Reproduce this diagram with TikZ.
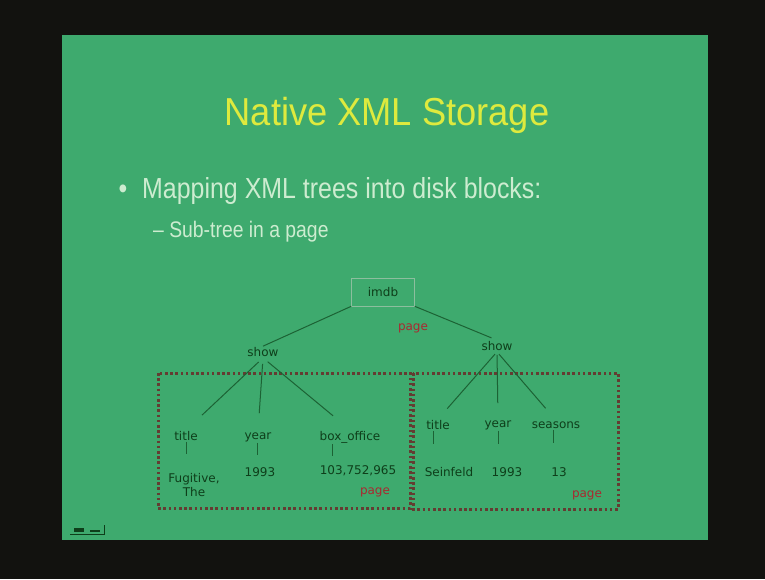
\documentclass[tikz,border=0pt]{standalone}
\usepackage{fontspec}
\setmainfont{Liberation Sans}
\newfontfamily\titlefont[FakeStretch=0.93]{Liberation Sans}
\newfontfamily\bodyfont[FakeStretch=0.86]{Liberation Sans}
\newfontfamily\treefont{DejaVu Sans}
\definecolor{bgblack}{RGB}{18,18,15}
\definecolor{slidegreen}{RGB}{62,170,110}
\definecolor{titleyellow}{RGB}{222,234,62}
\definecolor{bodytext}{RGB}{205,236,208}
\definecolor{treetext}{RGB}{14,62,26}
\definecolor{treeline}{RGB}{28,98,52}
\definecolor{pagered}{RGB}{170,40,48}
\definecolor{pagebrown}{RGB}{100,60,50}
\definecolor{boxgray}{RGB}{140,190,158}
\begin{document}
\begin{tikzpicture}[x=1pt,y=-1pt,
  lbl/.style={font=\treefont\fontsize{12}{14}\selectfont, text=treetext, inner sep=1pt, align=center},
  pagelbl/.style={font=\treefont\fontsize{12}{14}\selectfont, text=pagered, inner sep=1pt},
  edge/.style={draw=treeline, line width=1pt},
  tick/.style={draw=treeline, line width=0.9pt},
  pagebox/.style={draw=pagebrown, line width=3pt, dash pattern=on 2.6pt off 2.6pt}]
\useasboundingbox (0,0) rectangle (765,579);
\fill[bgblack] (0,0) rectangle (765,579);
\fill[slidegreen] (62,35) rectangle (708,540);

% title and bullets
\node[font=\titlefont\fontsize{39}{44}\selectfont, text=titleyellow, anchor=base] (title) at (387,125) {Native XML Storage};
\node[font=\bodyfont\fontsize{29}{33}\selectfont, text=bodytext, anchor=base] (dot) at (123,198) {•};
\node[font=\bodyfont\fontsize{29}{33}\selectfont, text=bodytext, anchor=base west, inner sep=0pt] (b1txt) at (142,198) {Mapping XML trees into disk blocks:};
\node[font=\bodyfont\fontsize{22.5}{26}\selectfont, text=bodytext, anchor=base west, inner sep=0pt] (b2txt) at (153,237) {– Sub-tree in a page};

% page boxes
\draw[pagebox] (158,373) rectangle (410,508);
\draw[pagebox] (413,373) rectangle (618,509);

% root
\node[lbl, draw=boxgray, line width=0.6pt, minimum width=63pt, minimum height=28pt] (imdb) at (383,292) {imdb};
\node[pagelbl] (pg0) at (413,328) {page};

\node[lbl] (show1) at (263,352) {show};
\node[lbl] (show2) at (497,346) {show};
\draw[edge] (imdb.south west) -- (show1.north);
\draw[edge, shorten >=6pt] (imdb.south east) -- (show2.north);

% left subtree
\node[lbl] (t1) at (186,436) {title};
\node[lbl] (y1) at (258,437) {year};
\node[lbl] (bo1) at (350,437) {box\_office};
\node[lbl] (v1) at (194,485.5) {Fugitive,\\The};
\node[lbl] (v2) at (260,472) {1993};
\node[lbl] (v3) at (358,471) {103,752,965};
\node[pagelbl] (pg1) at (375,492) {page};
\draw[edge, shorten <=6pt, shorten >=22pt] (show1.south) -- (t1.north);
\draw[edge, shorten <=6pt, shorten >=18pt] (show1.south) -- (y1.north);
\draw[edge, shorten <=6pt, shorten >=22pt] (show1.south) -- (bo1.north);
\draw[tick] (t1.south) -- ++(0,12);
\draw[tick] ([xshift=-1pt]y1.south) -- ++(0,12);
\draw[tick] ([xshift=-18pt]bo1.south) -- ++(0,12);

% right subtree
\node[lbl] (t2) at (438,425) {title};
\node[lbl] (y2) at (498,425) {year};
\node[lbl] (s2) at (556,425) {seasons};
\node[lbl] (w1) at (449,472) {Seinfeld};
\node[lbl] (w2) at (507,472) {1993};
\node[lbl] (w3) at (559,472) {13};
\node[pagelbl] (pg2) at (587,495) {page};
\draw[edge, shorten <=3pt, shorten >=14pt] (show2.south) -- (t2.north);
\draw[edge, shorten <=3pt, shorten >=16pt] (show2.south) -- (y2.north);
\draw[edge, shorten <=3pt, shorten >=16pt] (show2.south) -- (s2.north);
\draw[tick] ([xshift=-5pt]t2.south) -- ++(0,13);
\draw[tick] (y2.south) -- ++(0,13);
\draw[tick] ([xshift=-3pt]s2.south) -- ++(0,13);

% small navigation icon
\draw[treetext, line width=1pt] (70,534) -- (104,534) -- (104,525);
\fill[treetext] (74,528) rectangle (84,532);
\fill[treetext] (90,530) rectangle (100,532);
\end{tikzpicture}
\end{document}
